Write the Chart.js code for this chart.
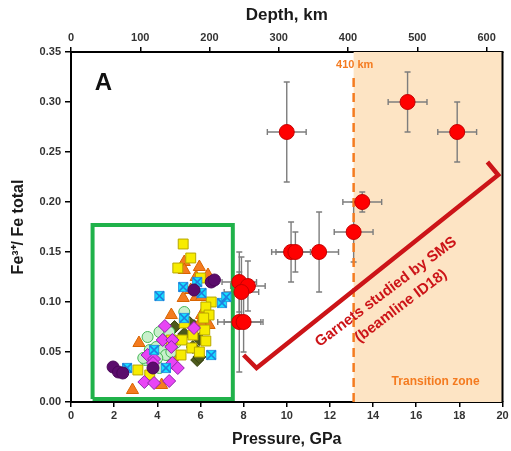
<!DOCTYPE html>
<html lang="en">
<head>
    <meta charset="UTF-8">
    <title>Fe3+/Fe total in garnets vs pressure</title>
    <script src="https://cdn.jsdelivr.net/npm/chart.js"></script>
    <style>
        * {
            margin: 0;
            padding: 0;
            box-sizing: border-box;
        }

        body {
            background: #ffffff;
        }

        .chart-container {
            position: relative;
            width: 511px;
            height: 451px;
        }
    </style>
</head>
<body>
    <div class="chart-container">
        <canvas id="garnetChart"></canvas>
    </div>

    <script>
        // Garnets studied by SMS (red, with error bars)
        const smsPressure = [10.0, 15.6, 17.9, 13.5, 13.1, 10.2, 10.4, 11.5, 7.8, 8.2, 7.9, 7.8, 8.0];
        const smsRatio = [0.27, 0.30, 0.27, 0.20, 0.17, 0.15, 0.15, 0.15, 0.12, 0.116, 0.11, 0.08, 0.08];
        const smsPressureErr = [0.9, 0.9, 0.9, 0.9, 0.9, 0.9, 0.9, 0.9, 0.8, 0.8, 0.8, 1.0, 0.9];
        const smsRatioErr = [0.05, 0.03, 0.03, 0.01, 0.03, 0.03, 0.02, 0.04, 0.03, 0.025, 0.035, 0.05, 0.03];

        // literature data inside the green box
        const yellowP = [5.2, 5.55, 4.95, 6.0, 6.5, 6.25, 6.4, 5.25, 6.2, 5.65, 6.25, 5.15, 5.6, 5.95, 5.1, 3.1, 3.65, 4.65, 6.15];
        const yellowV = [0.158, 0.144, 0.134, 0.124, 0.100, 0.095, 0.087, 0.079, 0.072, 0.067, 0.061, 0.062, 0.054, 0.050, 0.047, 0.032, 0.027, 0.062, 0.084];
        const orangeP = [5.25, 5.25, 5.95, 6.35, 5.8, 5.55, 5.2, 5.8, 6.05, 4.65, 6.05, 6.4, 3.15, 4.7, 2.85, 4.2, 6.0];
        const orangeV = [0.140, 0.132, 0.135, 0.127, 0.125, 0.112, 0.104, 0.105, 0.105, 0.087, 0.087, 0.077, 0.059, 0.045, 0.012, 0.017, 0.080];
        const cyanP = [4.1, 5.2, 5.85, 6.05, 7.0, 7.2, 5.25, 3.85, 2.6, 4.4, 6.5];
        const cyanV = [0.106, 0.115, 0.120, 0.109, 0.099, 0.105, 0.084, 0.052, 0.034, 0.034, 0.047];
        const purpleP = [1.95, 2.2, 2.4, 3.8, 6.5, 6.65, 5.7];
        const purpleV = [0.035, 0.030, 0.029, 0.034, 0.120, 0.122, 0.112];
        const greenP = [5.25, 3.55, 4.1, 4.4, 3.95, 4.25, 3.45, 4.1, 4.55, 3.65, 4.4, 4.85, 3.35, 4.0, 4.65];
        const greenV = [0.090, 0.065, 0.070, 0.064, 0.055, 0.052, 0.042, 0.034, 0.070, 0.052, 0.047, 0.059, 0.044, 0.044, 0.050];
        const oliveP = [4.8, 5.25, 5.7, 5.95, 5.85, 5.5, 6.2, 5.65, 5.95];
        const oliveV = [0.075, 0.068, 0.076, 0.063, 0.042, 0.079, 0.075, 0.055, 0.045];
        const magentaP = [4.35, 5.7, 4.25, 4.7, 4.65, 3.55, 3.85, 3.8, 4.7, 4.95, 3.4, 3.85, 4.55];
        const magentaV = [0.076, 0.074, 0.062, 0.062, 0.055, 0.047, 0.043, 0.039, 0.039, 0.034, 0.020, 0.019, 0.021];

        // outlines
        const boxP = [1.0, 7.5, 7.5, 1.0, 1.0];
        const boxV = [0.003, 0.003, 0.177, 0.177, 0.003];
        const bracketP = [8.0, 8.6, 19.8, 19.3];
        const bracketV = [0.047, 0.034, 0.227, 0.240];
        const zoneStart = 13.1;   // 410 km
        const dashP = [13.1, 13.1];
        const dashV = [0.0, 0.326];

        // axes
        const pressureTicks = [0, 2, 4, 6, 8, 10, 12, 14, 16, 18, 20];
        const depthTicks = [0, 100, 200, 300, 400, 500, 600];
        const ratioTicks = [0, 0.05, 0.10, 0.15, 0.20, 0.25, 0.30, 0.35];
        const depthMax = 623;

        const pts = (xs, ys) => xs.map((x, i) => ({ x: x, y: ys[i] }));
        const fontFamily = "'Liberation Sans', Arial, sans-serif";

        const extras = {
            id: 'extras',
            beforeDatasetsDraw(chart) {
                const { ctx, chartArea: a, scales: { x, y } } = chart;
                ctx.save();
                // transition zone shading
                const zx = x.getPixelForValue(zoneStart);
                ctx.fillStyle = '#fde4c4';
                ctx.fillRect(zx, a.top, a.right - zx, a.bottom - a.top);

                // error bars
                ctx.strokeStyle = '#7d7d7d';
                ctx.lineWidth = 1.4;
                const cap = 3;
                smsPressure.forEach((p, i) => {
                    const px = x.getPixelForValue(p);
                    const py = y.getPixelForValue(smsRatio[i]);
                    const x0 = x.getPixelForValue(p - smsPressureErr[i]);
                    const x1 = x.getPixelForValue(p + smsPressureErr[i]);
                    const y0 = y.getPixelForValue(smsRatio[i] - smsRatioErr[i]);
                    const y1 = y.getPixelForValue(smsRatio[i] + smsRatioErr[i]);
                    ctx.beginPath();
                    ctx.moveTo(x0, py); ctx.lineTo(x1, py);
                    ctx.moveTo(px, y0); ctx.lineTo(px, y1);
                    ctx.moveTo(x0, py - cap); ctx.lineTo(x0, py + cap);
                    ctx.moveTo(x1, py - cap); ctx.lineTo(x1, py + cap);
                    ctx.moveTo(px - cap, y0); ctx.lineTo(px + cap, y0);
                    ctx.moveTo(px - cap, y1); ctx.lineTo(px + cap, y1);
                    ctx.stroke();
                });
                ctx.restore();
            },
            afterDraw(chart) {
                const { ctx, chartArea: a, scales: { x, y } } = chart;
                ctx.save();
                // right frame line
                ctx.strokeStyle = '#000';
                ctx.lineWidth = 2;
                ctx.beginPath();
                ctx.moveTo(a.right, a.top);
                ctx.lineTo(a.right, a.bottom);
                ctx.stroke();

                ctx.textAlign = 'center';
                ctx.textBaseline = 'middle';

                ctx.fillStyle = '#111';
                ctx.font = 'bold 24px ' + fontFamily;
                ctx.fillText('A', x.getPixelForValue(1.5), y.getPixelForValue(0.319));

                ctx.fillStyle = '#f47b20';
                ctx.font = 'bold 11px ' + fontFamily;
                ctx.fillText('410 km', x.getPixelForValue(13.15), y.getPixelForValue(0.337));
                ctx.font = 'bold 12px ' + fontFamily;
                ctx.fillText('Transition zone', x.getPixelForValue(16.9), y.getPixelForValue(0.020));

                ctx.fillStyle = '#cc1418';
                ctx.font = 'bold 15px ' + fontFamily;
                const angle = -37 * Math.PI / 180;
                [['Garnets studied by SMS', 14.6, 0.110], ['(beamline ID18)', 15.3, 0.096]].forEach(([t, p, v]) => {
                    ctx.save();
                    ctx.translate(x.getPixelForValue(p), y.getPixelForValue(v));
                    ctx.rotate(angle);
                    ctx.fillText(t, 0, 0);
                    ctx.restore();
                });
                ctx.restore();
            }
        };

        const tickFont = { family: fontFamily, size: 11, weight: 'bold' };
        const titleFont = { family: fontFamily, size: 16, weight: 'bold' };

        new Chart(document.getElementById('garnetChart'), {
            type: 'scatter',
            data: {
                datasets: [
                    {
                        label: 'SMS',
                        data: pts(smsPressure, smsRatio),
                        pointStyle: 'circle',
                        pointRadius: 7.5,
                        backgroundColor: '#ff0000',
                        borderColor: '#c40000',
                        borderWidth: 1,
                        order: 0
                    },
                    {
                        label: 'bracket',
                        type: 'line',
                        data: pts(bracketP, bracketV),
                        borderColor: '#cc1418',
                        borderWidth: 4.5,
                        pointRadius: 0,
                        fill: false,
                        order: 1
                    },
                    {
                        label: 'purple',
                        data: pts(purpleP, purpleV),
                        pointStyle: 'circle',
                        pointRadius: 6,
                        backgroundColor: '#5b0c6c',
                        borderColor: '#4a0758',
                        borderWidth: 1,
                        order: 2
                    },
                    {
                        label: 'cyan cross',
                        data: pts(cyanP, cyanV),
                        pointStyle: 'crossRot',
                        pointRadius: 6.5,
                        borderColor: '#1f7fe0',
                        borderWidth: 1.5,
                        order: 3
                    },
                    {
                        label: 'cyan',
                        data: pts(cyanP, cyanV),
                        pointStyle: 'rect',
                        pointRadius: 6.5,
                        backgroundColor: '#12e2ff',
                        borderColor: '#2a9be0',
                        borderWidth: 1,
                        order: 4
                    },
                    {
                        label: 'magenta',
                        data: pts(magentaP, magentaV),
                        pointStyle: 'rectRot',
                        pointRadius: 6.5,
                        backgroundColor: '#e844f5',
                        borderColor: '#8e24aa',
                        borderWidth: 1,
                        order: 5
                    },
                    {
                        label: 'yellow',
                        data: pts(yellowP, yellowV),
                        pointStyle: 'rect',
                        pointRadius: 7,
                        backgroundColor: '#f7ec00',
                        borderColor: '#b8a800',
                        borderWidth: 1,
                        order: 6
                    },
                    {
                        label: 'green',
                        data: pts(greenP, greenV),
                        pointStyle: 'circle',
                        pointRadius: 5.5,
                        backgroundColor: '#c9f0cc',
                        borderColor: '#46b858',
                        borderWidth: 1,
                        order: 7
                    },
                    {
                        label: 'orange',
                        data: pts(orangeP, orangeV),
                        pointStyle: 'triangle',
                        pointRadius: 7,
                        backgroundColor: '#f47b20',
                        borderColor: '#d86400',
                        borderWidth: 1,
                        order: 8
                    },
                    {
                        label: 'olive',
                        data: pts(oliveP, oliveV),
                        pointStyle: 'rectRot',
                        pointRadius: 6.5,
                        backgroundColor: '#4d5a1c',
                        borderColor: '#3a4412',
                        borderWidth: 1,
                        order: 9
                    },
                    {
                        label: 'box',
                        type: 'line',
                        data: pts(boxP, boxV),
                        borderColor: '#20b24a',
                        borderWidth: 4,
                        pointRadius: 0,
                        fill: false,
                        order: 10
                    },
                    {
                        label: '410 km',
                        type: 'line',
                        data: pts(dashP, dashV),
                        borderColor: '#f47b20',
                        borderWidth: 2.5,
                        borderDash: [9, 6],
                        pointRadius: 0,
                        fill: false,
                        order: 11
                    }
                ]
            },
            options: {
                responsive: true,
                maintainAspectRatio: false,
                animation: false,
                layout: {
                    padding: { left: 0, right: 7, top: 0, bottom: 0 }
                },
                plugins: {
                    legend: { display: false },
                    tooltip: { enabled: false }
                },
                scales: {
                    x: {
                        type: 'linear',
                        position: 'bottom',
                        min: 0,
                        max: 20,
                        afterFit: s => { s.height = 49; },
                        afterBuildTicks: s => { s.ticks = pressureTicks.map(v => ({ value: v })); },
                        border: { color: '#000', width: 2 },
                        grid: { drawOnChartArea: false, tickLength: 5, color: '#000', lineWidth: 1.5 },
                        ticks: { font: tickFont, color: '#333', padding: 2, maxRotation: 0 },
                        title: {
                            display: true,
                            text: 'Pressure, GPa',
                            font: titleFont,
                            color: '#1a1a1a',
                            padding: { top: 0, bottom: 2 }
                        }
                    },
                    x2: {
                        type: 'linear',
                        position: 'top',
                        min: 0,
                        max: depthMax,
                        afterFit: s => { s.height = 52; },
                        afterBuildTicks: s => { s.ticks = depthTicks.map(v => ({ value: v })); },
                        border: { color: '#000', width: 2 },
                        grid: { drawOnChartArea: false, tickLength: 5, color: '#000', lineWidth: 1.5 },
                        ticks: { font: tickFont, color: '#333', padding: 2, maxRotation: 0 },
                        title: {
                            display: true,
                            text: 'Depth, km',
                            font: { family: fontFamily, size: 17, weight: 'bold' },
                            color: '#1a1a1a',
                            padding: { top: 5, bottom: 0 }
                        }
                    },
                    y: {
                        type: 'linear',
                        min: 0,
                        max: 0.35,
                        afterFit: s => { s.width = 71; },
                        afterBuildTicks: s => { s.ticks = ratioTicks.map(v => ({ value: v })); },
                        border: { color: '#000', width: 2 },
                        grid: { drawOnChartArea: false, tickLength: 6, color: '#000', lineWidth: 1.5 },
                        ticks: {
                            font: tickFont,
                            color: '#333',
                            padding: 4,
                            callback: v => v.toFixed(2)
                        },
                        title: {
                            display: true,
                            text: 'Fe³⁺/ Fe total',
                            font: titleFont,
                            color: '#1a1a1a',
                            padding: { top: 9, bottom: 0 }
                        }
                    }
                }
            },
            plugins: [extras]
        });
    </script>
</body>
</html>
